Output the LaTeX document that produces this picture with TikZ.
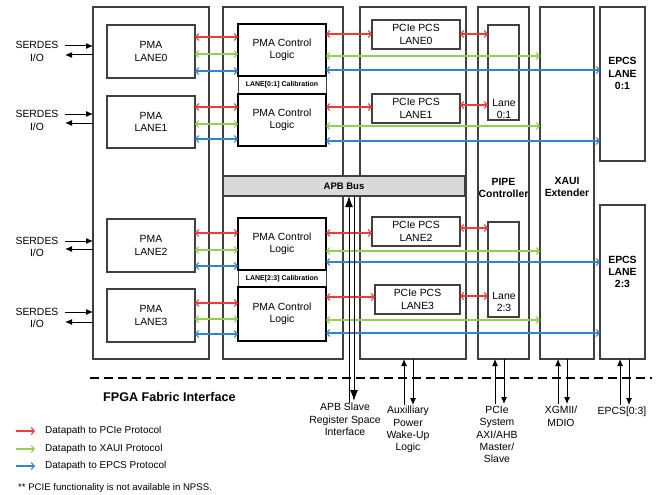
\documentclass[tikz,border=0pt]{standalone}
\usepackage{fontspec}
\setmainfont{Liberation Sans}
\usetikzlibrary{arrows.meta}
\definecolor{pred}{HTML}{F23A3A}
\definecolor{pgreen}{HTML}{92D050}
\definecolor{pblue}{HTML}{2F85D0}
\definecolor{edge}{HTML}{404040}
\definecolor{busfill}{HTML}{D9D9D9}
\tikzset{
  box/.style={draw=edge, line width=1.3pt, inner sep=0pt, outer sep=0pt, anchor=north west, align=center, font=\fontsize{10.4}{12.5}\selectfont},
  ctlbox/.style={box, draw=black, line width=1.9pt},
  txt/.style={inner sep=0pt, align=center, font=\fontsize{10.4}{12.3}\selectfont},
  btxt/.style={txt, font=\fontsize{10.4}{12.3}\selectfont\bfseries},
  dred/.style={draw=pred, line width=1.1pt, {Straight Barb[length=3pt,width=7pt]}-{Straight Barb[length=3pt,width=7pt]}},
  dgreen/.style={dred, draw=pgreen},
  dblue/.style={dred, draw=pblue},
  blk/.style={draw=black, line width=1pt, -{Latex[length=7pt,width=6pt]}},
  bigblk/.style={draw=black, line width=1pt, -{Latex[length=11pt,width=8pt]}},
  leg/.style={line width=1.1pt, -{Straight Barb[length=3pt,width=7pt]}}
}
\begin{document}
\begin{tikzpicture}[x=1pt,y=-1pt]
\useasboundingbox (0,0) rectangle (656,495);
% containers
\node[box, minimum width=116, minimum height=352] (boxA) at (93,7) {};
\node[box, minimum width=120, minimum height=352] (boxB) at (223,7) {};
\node[box, minimum width=106, minimum height=352] (boxC) at (360,7) {};
\node[box, minimum width=51, minimum height=352] (boxD) at (478,7) {};
\node[box, minimum width=54, minimum height=352] (boxE) at (540,7) {};
\node[box, minimum width=45, minimum height=154] (epcs01) at (600,7) {};
\node[box, minimum width=45, minimum height=154] (epcs23) at (600,205) {};
\node[btxt] (epcs01t) at (622.5,73.5) {EPCS\\LANE\\0:1};
\node[btxt] (epcs23t) at (622.5,272) {EPCS\\LANE\\2:3};
\node[btxt] (pipet) at (503.5,188) {PIPE\\Controller};
\node[btxt] (xauit) at (567,187) {XAUI\\Extender};
% PMA lanes
\node[box, minimum width=88, minimum height=53] (pma0) at (107,25) {PMA\\LANE0};
\node[box, minimum width=88, minimum height=52] (pma1) at (107,96) {PMA\\LANE1};
\node[box, minimum width=88, minimum height=53] (pma2) at (107,219) {PMA\\LANE2};
\node[box, minimum width=88, minimum height=53] (pma3) at (107,289) {PMA\\LANE3};
% control logic
\node[box, line width=1pt, minimum width=88, minimum height=18, font=\fontsize{7}{8}\selectfont\bfseries] (cal01) at (238,76) {LANE[0:1] Calibration};
\node[box, line width=1pt, minimum width=88, minimum height=17, font=\fontsize{7}{8}\selectfont\bfseries] (cal23) at (238,270) {LANE[2:3] Calibration};
\node[ctlbox, minimum width=88, minimum height=52] (ctl0) at (238,24) {PMA Control\\Logic};
\node[ctlbox, minimum width=88, minimum height=52] (ctl1) at (238,94) {PMA Control\\Logic};
\node[ctlbox, minimum width=88, minimum height=52] (ctl2) at (238,218) {PMA Control\\Logic};
\node[ctlbox, minimum width=88, minimum height=54] (ctl3) at (238,287) {PMA Control\\Logic};
% APB bus
\node[box, fill=busfill, minimum width=242, minimum height=20, font=\fontsize{9.5}{11}\selectfont\bfseries] (apb) at (223,176) {APB Bus};
% PCS
\node[box, minimum width=88, minimum height=29] (pcs0) at (372,20) {PCIe PCS\\LANE0};
\node[box, minimum width=88, minimum height=29] (pcs1) at (372,94) {PCIe PCS\\LANE1};
\node[box, minimum width=88, minimum height=29] (pcs2) at (372,217) {PCIe PCS\\LANE2};
\node[box, minimum width=85, minimum height=29] (pcs3) at (375,285) {PCIe PCS\\LANE3};
% PIPE lane boxes
\node[box, minimum width=31, minimum height=95] (lane01) at (488,25) {};
\node[box, minimum width=31, minimum height=95] (lane23) at (488,222) {};
\node[txt] (lane01t) at (504,109) {Lane\\0:1};
\node[txt] (lane23t) at (504,302) {Lane\\2:3};
% SERDES
\node[txt] (ser0) at (37,51.5) {SERDES\\I/O};
\node[txt] (ser1) at (37,120.5) {SERDES\\I/O};
\node[txt] (ser2) at (37,247) {SERDES\\I/O};
\node[txt] (ser3) at (37,318) {SERDES\\I/O};
\coordinate (s0a) at (65,46); \coordinate (s0b) at (65,55);
\coordinate (s1a) at (65,114); \coordinate (s1b) at (65,123);
\coordinate (s2a) at (65,241); \coordinate (s2b) at (65,249);
\coordinate (s3a) at (65,312); \coordinate (s3b) at (65,322);
\draw[blk] (s0a) -- (boxA.west |- s0a);
\draw[blk] (boxA.west |- s0b) -- (s0b);
\draw[blk] (s1a) -- (boxA.west |- s1a);
\draw[blk] (boxA.west |- s1b) -- (s1b);
\draw[blk] (s2a) -- (boxA.west |- s2a);
\draw[blk] (boxA.west |- s2b) -- (s2b);
\draw[blk] (s3a) -- (boxA.west |- s3a);
\draw[blk] (boxA.west |- s3b) -- (s3b);
% lane 0 datapaths
\draw[dred] (pma0.east |- 0,37) -- (ctl0.west |- 0,37);
\draw[dgreen] (pma0.east |- 0,54) -- (ctl0.west |- 0,54);
\draw[dblue] (pma0.east |- 0,71) -- (ctl0.west |- 0,71);
\draw[dred] (ctl0.east |- 0,34) -- (pcs0.west |- 0,34);
\draw[dgreen] (ctl0.east |- 0,56) -- (boxE.west |- 0,56);
\draw[dblue] (ctl0.east |- 0,70) -- (epcs01.west |- 0,70);
\draw[dred] (pcs0.east |- 0,34) -- (lane01.west |- 0,34);
% lane 1
\draw[dred] (pma1.east |- 0,107) -- (ctl1.west |- 0,107);
\draw[dgreen] (pma1.east |- 0,124) -- (ctl1.west |- 0,124);
\draw[dblue] (pma1.east |- 0,139) -- (ctl1.west |- 0,139);
\draw[dred] (ctl1.east |- 0,107) -- (pcs1.west |- 0,107);
\draw[dgreen] (ctl1.east |- 0,126) -- (boxE.west |- 0,126);
\draw[dblue] (ctl1.east |- 0,141) -- (epcs01.west |- 0,141);
\draw[dred] (pcs1.east |- 0,105) -- (lane01.west |- 0,105);
% lane 2
\draw[dred] (pma2.east |- 0,233) -- (ctl2.west |- 0,233);
\draw[dgreen] (pma2.east |- 0,250) -- (ctl2.west |- 0,250);
\draw[dblue] (pma2.east |- 0,266) -- (ctl2.west |- 0,266);
\draw[dred] (ctl2.east |- 0,233) -- (pcs2.west |- 0,233);
\draw[dgreen] (ctl2.east |- 0,251) -- (boxE.west |- 0,251);
\draw[dblue] (ctl2.east |- 0,262) -- (epcs23.west |- 0,262);
\draw[dred] (pcs2.east |- 0,228) -- (lane23.west |- 0,228);
% lane 3
\draw[dred] (pma3.east |- 0,303) -- (ctl3.west |- 0,303);
\draw[dgreen] (pma3.east |- 0,319) -- (ctl3.west |- 0,319);
\draw[dblue] (pma3.east |- 0,334) -- (ctl3.west |- 0,334);
\draw[dred] (ctl3.east |- 0,297) -- (pcs3.west |- 0,297);
\draw[dgreen] (ctl3.east |- 0,320) -- (boxE.west |- 0,320);
\draw[dblue] (ctl3.east |- 0,333) -- (epcs23.west |- 0,333);
\draw[dred] (pcs3.east |- 0,296) -- (lane23.west |- 0,296);
% fabric interface line
\draw[line width=1.4pt, dash pattern=on 9pt off 5pt] (90,378) -- (652,378);
\node[anchor=west, inner sep=0pt, font=\fontsize{12.6}{14}\selectfont\bfseries] (fpga) at (103,397) {FPGA Fabric Interface};
% bottom interfaces
\coordinate (apbU) at (349,403); \coordinate (apbD) at (354,401);
\draw[bigblk] (apbU) -- (apb.south -| apbU);
\draw[bigblk] (apb.south -| apbD) -- (apbD);
\coordinate (auxU) at (404,405); \coordinate (auxD) at (413,405);
\draw[blk] (auxU) -- (boxC.south -| auxU);
\draw[blk] (boxC.south -| auxD) -- (auxD);
\coordinate (pcieU) at (495,404); \coordinate (pcieD) at (504,404);
\draw[blk] (pcieU) -- (boxD.south -| pcieU);
\draw[blk] (boxD.south -| pcieD) -- (pcieD);
\coordinate (xgU) at (558,404); \coordinate (xgD) at (567,404);
\draw[blk] (xgU) -- (boxE.south -| xgU);
\draw[blk] (boxE.south -| xgD) -- (xgD);
\coordinate (epU) at (620,405); \coordinate (epD) at (629,405);
\draw[blk] (epU) -- (epcs23.south -| epU);
\draw[blk] (epcs23.south -| epD) -- (epD);
\node[txt, anchor=north] (apbl) at (345,403) {APB Slave\\Register Space\\Interface};
\node[txt, anchor=north] (auxl) at (408,406) {Auxilliary\\Power\\Wake-Up\\Logic};
\node[txt, anchor=north] (piel) at (497,406) {PCIe\\System\\AXI/AHB\\Master/\\Slave};
\node[txt, anchor=north] (xgl) at (561,406) {XGMII/\\MDIO};
\node[txt, anchor=north] (epl) at (622,407) {EPCS[0:3]};
% legend
\coordinate (l1a) at (16,431); \coordinate (l1b) at (35,431);
\coordinate (l2a) at (16,449); \coordinate (l2b) at (35,449);
\coordinate (l3a) at (16,466); \coordinate (l3b) at (35,466);
\draw[leg, draw=pred] (l1a) -- (l1b);
\draw[leg, draw=pgreen] (l2a) -- (l2b);
\draw[leg, draw=pblue] (l3a) -- (l3b);
\node[txt, anchor=west, font=\fontsize{10}{12}\selectfont] (leg1) at (45,431) {Datapath to PCIe Protocol};
\node[txt, anchor=west, font=\fontsize{10}{12}\selectfont] (leg2) at (45,449) {Datapath to XAUI Protocol};
\node[txt, anchor=west, font=\fontsize{10}{12}\selectfont] (leg3) at (45,466) {Datapath to EPCS Protocol};
\node[txt, anchor=west, font=\fontsize{9.6}{12}\selectfont] (note) at (18,488) {** PCIE functionality is not available in NPSS.};
\end{tikzpicture}
\end{document}
